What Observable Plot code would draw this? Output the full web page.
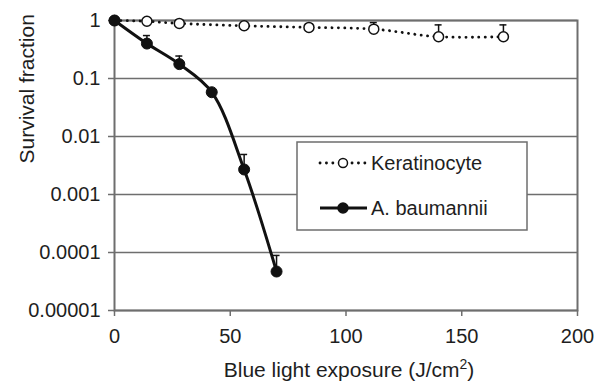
<!DOCTYPE html>
<html>
<head>
<meta charset="utf-8">
<script src="https://cdn.jsdelivr.net/npm/d3@7"></script>
<script src="https://cdn.jsdelivr.net/npm/@observablehq/plot@0.6"></script>
<style>
  html, body { margin: 0; padding: 0; background: #fff; }
</style>
</head>
<body>
<div id="chart"></div>
<script>
// ---- data ----
const keratDose = [0, 14, 28, 56, 84, 112, 140, 168];
const keratSurvival = [1, 0.97, 0.89, 0.81, 0.76, 0.71, 0.525, 0.525];
const keratErrHigh = [null, null, null, null, null, 0.92, 0.84, 0.84];

const abauDose = [0, 14, 28, 42, 56, 70];
const abauSurvival = [1, 0.40, 0.177, 0.058, 0.0027, 0.000047];
const abauErrHigh = [null, 0.55, 0.244, null, 0.0049, 0.000089];

const xTicks = [0, 50, 100, 150, 200];
const yTicks = [1, 0.1, 0.01, 0.001, 0.0001, 0.00001];
const yTickLabels = ["1", "0.1", "0.01", "0.001", "0.0001", "0.00001"];

const seriesNames = ["Keratinocyte", "A. baumannii"];
const xLabel = "Blue light exposure (J/cm2)";
const yLabel = "Survival fraction";

// ---- tables ----
const kerat = keratDose.map((x, i) => ({x, y: keratSurvival[i], hi: keratErrHigh[i]}));
const abau = abauDose.map((x, i) => ({x, y: abauSurvival[i], hi: abauErrHigh[i]}));
const keratErr = kerat.filter(d => d.hi != null);
const abauErr = abau.filter(d => d.hi != null);

const axisColor = "#6e6e6e";
const ink = "#111";
const textColor = "#1e1e1e";
const font = "'Liberation Sans', Arial, Helvetica, sans-serif";
const dotted = "0.1,6.3";

const chart = Plot.plot({
  width: 599,
  height: 381,
  marginLeft: 114,
  marginRight: 22,
  marginTop: 20,
  marginBottom: 71,
  style: {fontFamily: font, fontSize: "20px", color: textColor, background: "#fff"},
  x: {domain: [0, 200], ticks: xTicks},
  y: {type: "log", domain: [0.00001, 1], ticks: yTicks},
  marks: [
    Plot.gridY(yTicks, {stroke: axisColor, strokeOpacity: 1, strokeWidth: 1.5}),
    Plot.frame({stroke: axisColor, strokeWidth: 2}),
    Plot.axisY(yTicks, {
      tickSize: 6, tickPadding: 8, stroke: axisColor, strokeWidth: 1.5,
      tickFormat: d => yTickLabels[yTicks.indexOf(d)], label: null,
      fontSize: 20, fill: textColor, fontVariant: "normal", fontFamily: font
    }),
    Plot.axisX(xTicks, {
      tickSize: 6, tickPadding: 12, stroke: axisColor, strokeWidth: 1.5,
      tickFormat: d => String(d), label: null,
      fontSize: 20, fill: textColor, fontVariant: "normal", fontFamily: font
    }),
    Plot.text([xLabel], {frameAnchor: "bottom", lineAnchor: "bottom", dy: 66, dx: 3, text: d => d, fontSize: 21, fill: textColor, fontFamily: font}),
    Plot.text([yLabel], {frameAnchor: "left", lineAnchor: "bottom", rotate: -90, dx: -81, dy: -2, text: d => d, fontSize: 21, fill: textColor, fontFamily: font}),
    // error bars
    Plot.ruleX(keratErr, {x: "x", y1: "y", y2: "hi", stroke: ink, strokeWidth: 1.5}),
    Plot.ruleY(keratErr, {y: "hi", x1: "x", x2: "x", insetLeft: -3.5, insetRight: -3.5, stroke: ink, strokeWidth: 1.5}),
    Plot.ruleX(abauErr, {x: "x", y1: "y", y2: "hi", stroke: ink, strokeWidth: 1.5}),
    Plot.ruleY(abauErr, {y: "hi", x1: "x", x2: "x", insetLeft: -3.5, insetRight: -3.5, stroke: ink, strokeWidth: 1.5}),
    // keratinocyte
    Plot.line(kerat, {x: "x", y: "y", stroke: ink, strokeWidth: 2.8, strokeDasharray: dotted, strokeLinecap: "round", curve: "catmull-rom"}),
    Plot.dot(kerat, {x: "x", y: "y", r: 5, fill: "#fff", stroke: ink, strokeWidth: 1.5}),
    // A. baumannii
    Plot.line(abau, {x: "x", y: "y", stroke: ink, strokeWidth: 3, curve: "catmull-rom"}),
    Plot.dot(abau, {x: "x", y: "y", r: 5.5, fill: ink, stroke: ink, strokeWidth: 1})
  ]
});

document.getElementById("chart").appendChild(chart);

const svg = d3.select(chart);

// superscript in the x label
svg.selectAll("text").filter(function () { return this.textContent === xLabel; }).each(function () {
  const t = d3.select(this);
  t.text(null);
  t.append("tspan").text("Blue light exposure (J/cm");
  t.append("tspan").attr("baseline-shift", "super").attr("font-size", "14px").text("2");
  t.append("tspan").text(")");
});

// legend box
const lg = svg.append("g").attr("font-family", font).attr("font-size", 20)
  .attr("fill", textColor).attr("text-anchor", "start");
lg.append("rect").attr("x", 297).attr("y", 142).attr("width", 230).attr("height", 88)
  .attr("fill", "#fff").attr("stroke", axisColor).attr("stroke-width", 1.5);
const rows = [
  {name: seriesNames[0], y: 163, dash: dotted, w: 2.8, fill: "#fff", r: 4.5},
  {name: seriesNames[1], y: 208, dash: null, w: 3, fill: ink, r: 5}
];
rows.forEach(rw => {
  lg.append("line").attr("x1", 320).attr("x2", 367).attr("y1", rw.y).attr("y2", rw.y)
    .attr("stroke", ink).attr("stroke-width", rw.w).attr("stroke-dasharray", rw.dash)
    .attr("stroke-linecap", rw.dash ? "round" : "butt");
  lg.append("circle").attr("cx", 343).attr("cy", rw.y).attr("r", rw.r)
    .attr("fill", rw.fill).attr("stroke", ink).attr("stroke-width", 1.5);
  lg.append("text").attr("x", 371).attr("y", rw.y).attr("dy", "0.35em").attr("text-anchor", "start").text(rw.name);
});
</script>
</body>
</html>
